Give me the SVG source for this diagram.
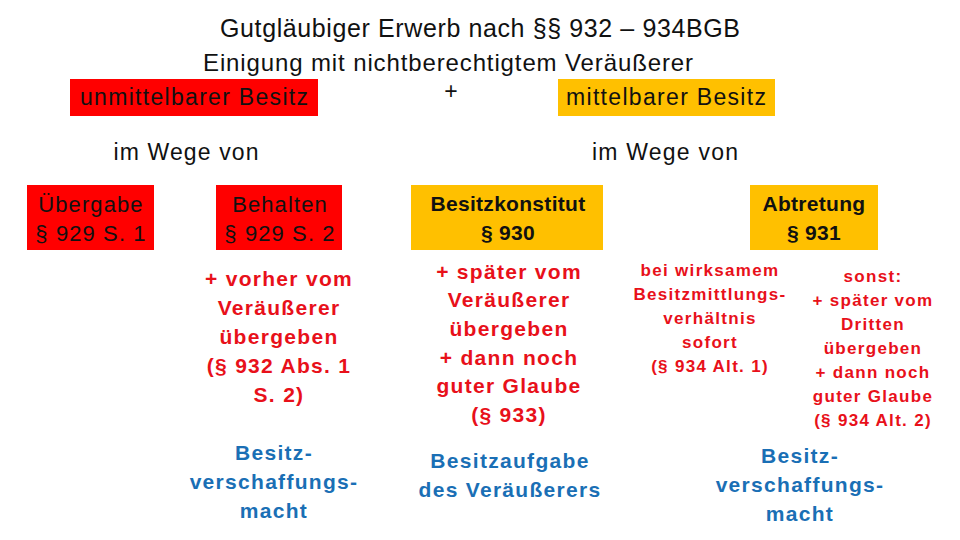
<svg xmlns="http://www.w3.org/2000/svg" width="960" height="540" viewBox="0 0 960 540">
<style>
text{font-family:"Liberation Sans",Arial,sans-serif;text-anchor:middle}
.t{font-size:25px;fill:#111}
.h{font-size:24px;fill:#111}
.hb{font-size:23px;fill:#111}
.bx{font-size:22px;fill:#111;letter-spacing:1.1px}
.bxo{font-size:21px;fill:#111;font-weight:bold;letter-spacing:0.3px}
.r{font-size:21px;font-weight:bold;fill:#e8101a;letter-spacing:1.3px}
.rs{font-size:17px;font-weight:bold;fill:#e8101a;letter-spacing:1.3px}
.b{font-size:21px;font-weight:bold;fill:#1a6fb5;letter-spacing:1.3px}
.red{fill:#ff0000}
.org{fill:#ffc000}
</style>
<rect width="960" height="540" fill="#fff"/>
<g id="title">
<text class="t" x="480" y="37" textLength="520" lengthAdjust="spacing">Gutgläubiger Erwerb nach §§ 932 – 934BGB</text>
</g>
<g id="einigung">
<text class="h" x="448" y="71" textLength="490" lengthAdjust="spacing">Einigung mit nichtberechtigtem Veräußerer</text>
</g>
<g id="unmittelbar">
<rect class="red" x="70" y="79" width="248" height="37"/>
<text class="hb" x="194" y="105" textLength="228" lengthAdjust="spacing">unmittelbarer Besitz</text>
</g>
<g id="plus">
<text class="hb" x="451" y="99">+</text>
</g>
<g id="mittelbar">
<rect class="org" x="558" y="79" width="217" height="37"/>
<text class="hb" x="666" y="105" textLength="200" lengthAdjust="spacing">mittelbarer Besitz</text>
</g>
<g id="wege-links">
<text class="hb" x="186" y="160" textLength="145" lengthAdjust="spacing">im Wege von</text>
</g>
<g id="wege-rechts">
<text class="hb" x="665" y="160" textLength="146" lengthAdjust="spacing">im Wege von</text>
</g>
<g id="uebergabe">
<rect class="red" x="27" y="185" width="127" height="65"/>
<text class="bx" x="91" y="212">Übergabe</text>
<text class="bx" x="91" y="241">§ 929 S. 1</text>
</g>
<g id="behalten">
<rect class="red" x="216" y="185" width="126" height="65"/>
<text class="bx" x="280" y="212">Behalten</text>
<text class="bx" x="280" y="241">§ 929 S. 2</text>
</g>
<g id="besitzkonstitut">
<rect class="org" x="411" y="185" width="192" height="65"/>
<text class="bxo" x="508" y="211">Besitzkonstitut</text>
<text class="bxo" x="508" y="240">§ 930</text>
</g>
<g id="abtretung">
<rect class="org" x="750" y="185" width="128" height="65"/>
<text class="bxo" x="814" y="211">Abtretung</text>
<text class="bxo" x="814" y="240">§ 931</text>
</g>
<g id="voraussetzung-behalten">
<text class="r" x="279" y="286">+ vorher vom</text>
<text class="r" x="279" y="315">Veräußerer</text>
<text class="r" x="279" y="344">übergeben</text>
<text class="r" x="279" y="373">(§ 932 Abs. 1</text>
<text class="r" x="279" y="402">S. 2)</text>
</g>
<g id="voraussetzung-konstitut">
<text class="r" x="509" y="279">+ später vom</text>
<text class="r" x="509" y="307">Veräußerer</text>
<text class="r" x="509" y="336">übergeben</text>
<text class="r" x="509" y="365">+ dann noch</text>
<text class="r" x="509" y="393">guter Glaube</text>
<text class="r" x="509" y="422">(§ 933)</text>
</g>
<g id="voraussetzung-abtretung-1">
<text class="rs" x="710" y="276">bei wirksamem</text>
<text class="rs" x="710" y="300">Besitzmittlungs-</text>
<text class="rs" x="710" y="324">verhältnis</text>
<text class="rs" x="710" y="348">sofort</text>
<text class="rs" x="710" y="372">(§ 934 Alt. 1)</text>
</g>
<g id="voraussetzung-abtretung-2">
<text class="rs" x="873" y="282">sonst:</text>
<text class="rs" x="873" y="306">+ später vom</text>
<text class="rs" x="873" y="330">Dritten</text>
<text class="rs" x="873" y="354">übergeben</text>
<text class="rs" x="873" y="378">+ dann noch</text>
<text class="rs" x="873" y="402">guter Glaube</text>
<text class="rs" x="873" y="426">(§ 934 Alt. 2)</text>
</g>
<g id="grund-behalten">
<text class="b" x="274" y="460">Besitz-</text>
<text class="b" x="274" y="489">verschaffungs-</text>
<text class="b" x="274" y="518">macht</text>
</g>
<g id="grund-konstitut">
<text class="b" x="510" y="468">Besitzaufgabe</text>
<text class="b" x="510" y="497">des Veräußerers</text>
</g>
<g id="grund-abtretung">
<text class="b" x="800" y="463">Besitz-</text>
<text class="b" x="800" y="492">verschaffungs-</text>
<text class="b" x="800" y="521">macht</text>
</g>
<g id="connectors"></g>
</svg>
